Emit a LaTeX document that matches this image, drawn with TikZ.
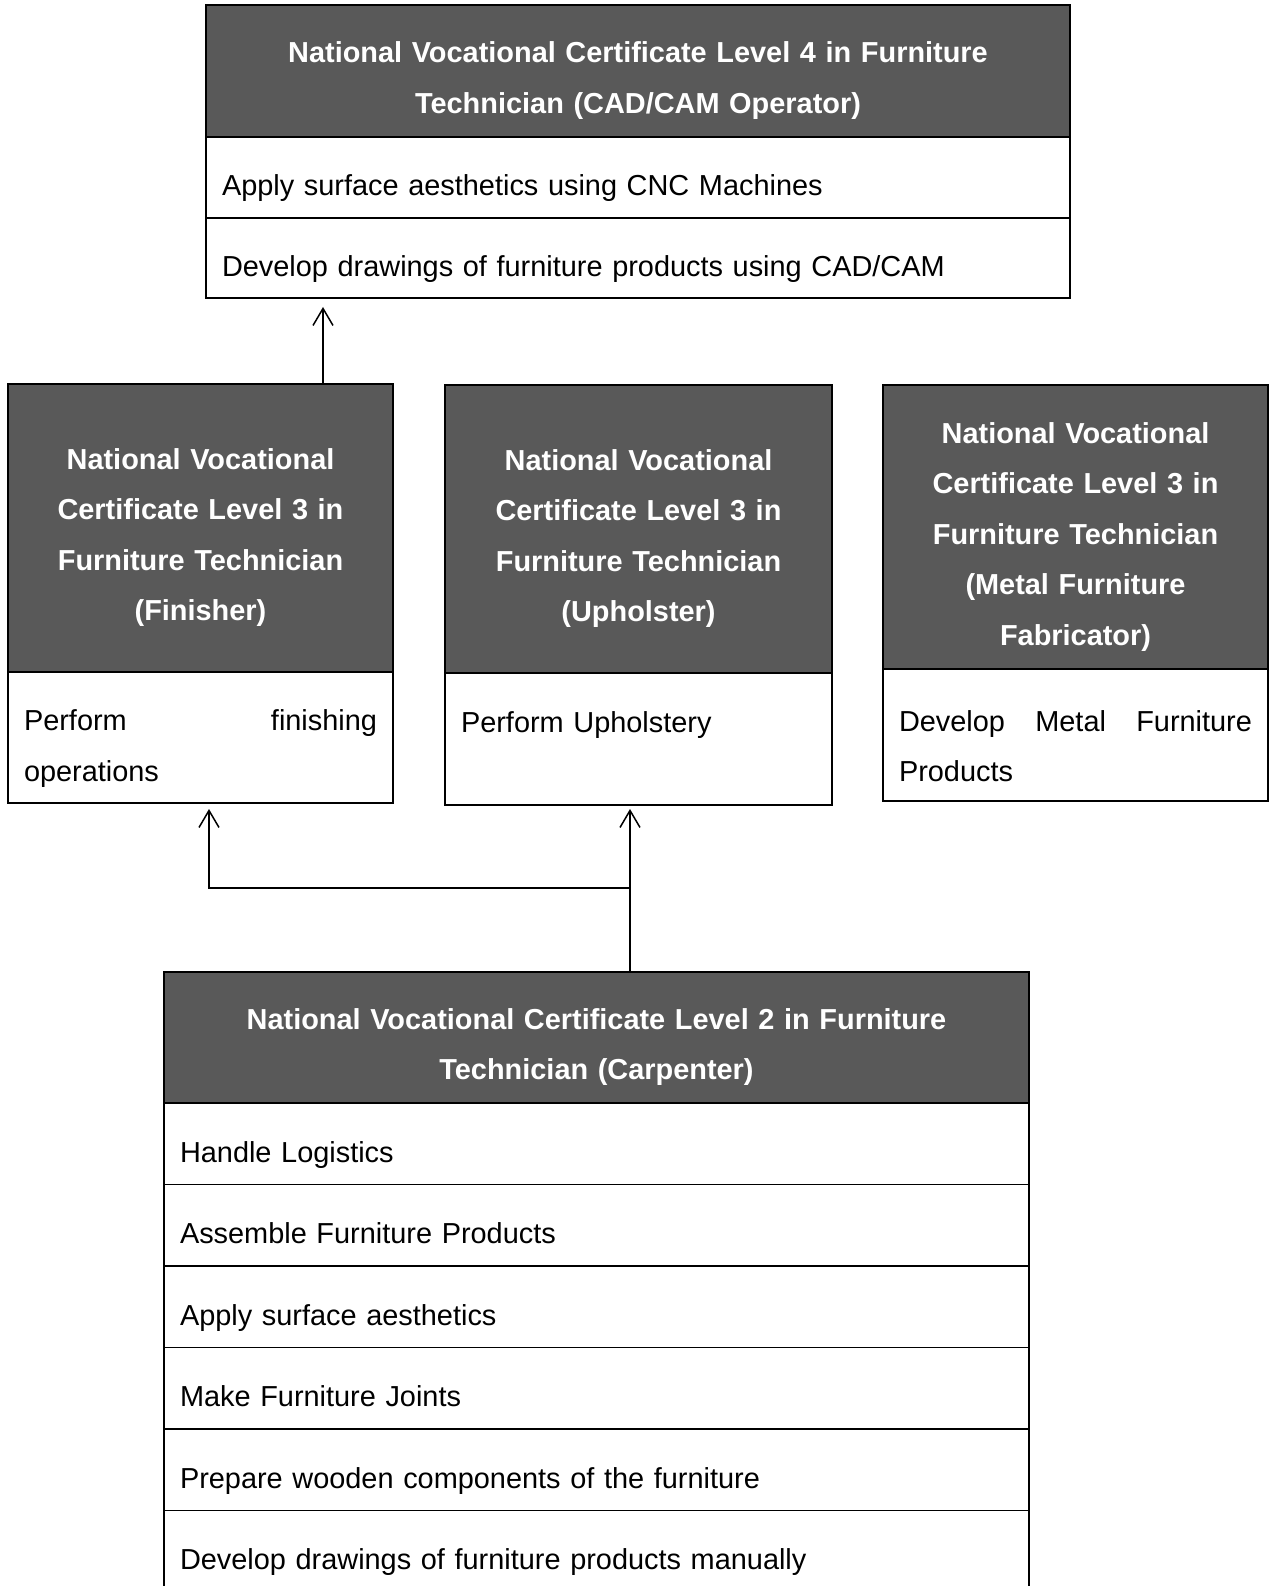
\documentclass[tikz,border=0pt]{standalone}
\usepackage{fontspec}
\setmainfont{Liberation Sans}
\usetikzlibrary{positioning,arrows.meta}

\definecolor{headgray}{HTML}{595959}
\newcommand\hstrut{\rule[-0.21em]{0pt}{1.60em}}
\newcommand\rstrut{\rule[-0.21em]{0pt}{1.69em}}
\newcommand\cellfont{\fontsize{28.9}{50.5}\selectfont}

\tikzset{
    head/.style={draw, line width=1.8pt, fill=headgray, text=white,
        font=\cellfont\bfseries, align=center, text width=#1,
        inner xsep=16pt, inner ysep=0pt, outer sep=0pt, anchor=north west,
        execute at begin node={\hyphenpenalty=10000\relax\hstrut}},
    item/.style={draw, line width=1.8pt, fill=white, font=\cellfont,
        align=left, text width=#1, inner xsep=16pt, inner ysep=0pt, outer sep=0pt,
        execute at begin node={\hyphenpenalty=10000\tolerance=9999\relax\rstrut}},
    link/.style={line width=1.5pt},
    up/.style={link, -{Straight Barb[length=17pt,width=20pt]}}
}

\begin{document}
\begin{tikzpicture}[x=1pt, y=-1pt]
    \useasboundingbox (0,0) rectangle (1271,1586);

    % level 4
    \node[head=832pt, minimum height=132pt] (topH) at (206,5)
        {National Vocational Certificate Level 4 in Furniture\\Technician (CAD/CAM Operator)};
    \node[item=832pt, minimum height=81pt, below=0pt of topH] (topR1)
        {Apply surface aesthetics using CNC Machines};
    \node[item=832pt, minimum height=80pt, below=0pt of topR1] (topR2)
        {Develop drawings of furniture products using CAD/CAM};

    % level 3
    \node[head=353pt, minimum height=288pt] (finH) at (8,384)
        {National Vocational\\Certificate Level 3 in\\Furniture Technician\\(Finisher)};
    \node[item=353pt, align=justify, minimum height=131pt, below=0pt of finH] (finR)
        {Perform finishing operations};

    \node[head=355pt, minimum height=288pt] (uphH) at (445,385)
        {National Vocational\\Certificate Level 3 in\\Furniture Technician\\(Upholster)};
    \node[item=355pt, minimum height=132pt, below=0pt of uphH] (uphR)
        {Perform Upholstery\\\rule[-0.21em]{0pt}{0pt}};

    \node[head=353pt, minimum height=284pt] (metH) at (883,385)
        {National Vocational\\Certificate Level 3 in\\Furniture Technician\\(Metal Furniture\\Fabricator)};
    \node[item=353pt, align=justify, minimum height=132pt, below=0pt of metH] (metR)
        {Develop Metal Furniture Products};

    % level 2
    \node[head=833pt, minimum height=131pt] (carH) at (164,972)
        {National Vocational Certificate Level 2 in Furniture\\Technician (Carpenter)};
    \foreach \txt [count=\i] in {Handle Logistics, Assemble Furniture Products,
        Apply surface aesthetics, Make Furniture Joints,
        Prepare wooden components of the furniture,
        Develop drawings of furniture products manually} {
        \node[item=833pt, minimum height=81.5pt, anchor=north west]
            (carR\i) at (164,{1021.5+81.5*\i}) {\txt};
    }

    % progression arrows
    \coordinate (finTop) at ([xshift=122.5pt]finH.north);
    \draw[up, shorten >=9pt] (finTop) -- (finTop |- topR2.south);

    \coordinate (fork) at (630,888);
    \draw[link] (fork |- carH.north) -- (fork);
    \draw[up, shorten >=4pt] (fork) -- (fork |- uphR.south);
    \draw[up, shorten >=6pt] (fork) -| ([xshift=8.5pt]finR.south);

\end{tikzpicture}
\end{document}
